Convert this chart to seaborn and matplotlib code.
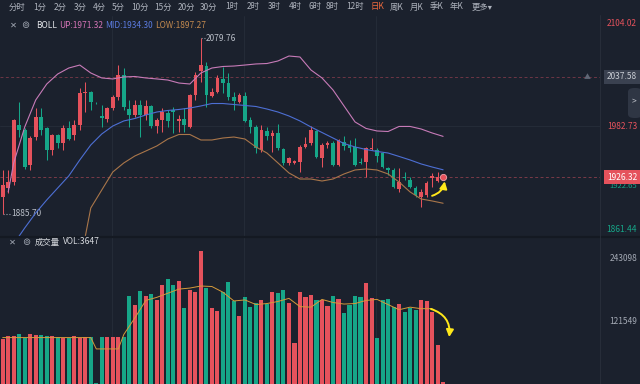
import numpy as np
import matplotlib
matplotlib.use('Agg')
import matplotlib.pyplot as plt
import seaborn as sns
from matplotlib.patches import FancyBboxPatch

# candles (red = up, green = down)
opens = [1904.2, 1914.2, 1920.8, 1983.9, 1978.4, 1939.6, 1970.6, 1992.8, 1980.6, 1956.3,
         1972.9, 1964.0, 1980.6, 1972.9, 1983.9, 2019.3, 2020.5, 2008.5, 1993.9, 1990.6,
         2002.7, 2014.9, 2039.3, 2001.6, 1995.0, 2006.1, 1995.0, 2005.0, 1982.8, 1989.5,
         1997.2, 2000.5, 1988.4, 1990.6, 1981.7, 2017.1, 2043.7, 2049.2, 2016.0, 2020.5,
         2034.8, 2030.4, 2014.9, 2009.4, 2016.0, 1989.5, 1981.7, 1956.3, 1977.3, 1971.7,
         1975.1, 1957.4, 1941.9, 1941.9, 1943.0, 1959.6, 1964.0, 1977.3, 1947.4, 1961.8,
         1964.0, 1939.6, 1965.1, 1961.8, 1959.6, 1943.0, 1943.0, 1957.4, 1956.3, 1952.9,
         1936.3, 1934.1, 1913.1, 1926.3, 1923.0, 1914.2, 1904.2, 1906.4, 1925.2, 1921.9,
         1926.0]
highs = [1934.1, 1934.1, 1990.6, 2009.4, 1980.6, 1971.7, 2002.7, 2002.7, 1981.7, 1974.0,
         1974.0, 1983.9, 1988.4, 1989.5, 2024.9, 2031.5, 2021.6, 2009.4, 2006.1, 2003.9,
         2017.1, 2050.3, 2047.0, 2011.6, 2011.6, 2011.6, 2011.6, 2006.1, 1991.7, 2002.7,
         2000.5, 2003.9, 1995.0, 2002.7, 2018.2, 2042.6, 2079.76, 2053.6, 2024.9, 2039.3,
         2048.1, 2041.5, 2020.5, 2019.3, 2020.5, 1992.8, 1983.9, 1983.9, 1981.7, 1978.4,
         1985.0, 1958.5, 1948.5, 1945.2, 1961.8, 1970.6, 1982.8, 1978.4, 1964.0, 1966.2,
         1966.2, 1968.4, 1971.7, 1967.3, 1969.5, 1947.4, 1959.6, 1969.5, 1958.5, 1954.0,
         1937.4, 1936.3, 1936.3, 1931.9, 1926.3, 1916.4, 1913.1, 1921.9, 1930.8, 1931.9,
         1927.0]
lows = [1885.7, 1908.6, 1917.5, 1970.6, 1935.2, 1934.1, 1967.3, 1972.9, 1945.2, 1950.7,
        1958.5, 1956.3, 1967.3, 1967.3, 1978.4, 1998.3, 2000.5, 2007.2, 1981.7, 1987.3,
        2000.5, 2011.6, 2000.5, 1981.7, 1992.8, 1970.6, 1989.5, 1980.6, 1975.1, 1976.2,
        1981.7, 1975.1, 1976.2, 1976.2, 1980.6, 2011.6, 2031.5, 2003.9, 2014.9, 2019.3,
        2019.3, 2011.6, 2000.5, 2008.3, 1987.3, 1975.1, 1952.9, 1954.0, 1967.3, 1954.0,
        1956.3, 1939.6, 1939.6, 1940.7, 1931.9, 1958.5, 1961.8, 1947.4, 1937.4, 1958.5,
        1938.5, 1938.5, 1956.3, 1954.0, 1938.5, 1940.7, 1926.3, 1956.3, 1943.0, 1936.3,
        1928.6, 1914.2, 1909.8, 1923.0, 1914.2, 1904.2, 1893.2, 1904.2, 1915.3, 1920.8,
        1925.5]
closes = [1917.5, 1920.8, 1989.5, 1978.4, 1937.4, 1969.5, 1992.8, 1978.4, 1956.3, 1972.9,
          1964.0, 1980.6, 1968.4, 1983.9, 2019.3, 2020.5, 2009.4, 2008.0, 1991.7, 2002.7,
          2014.9, 2039.3, 2003.9, 1995.0, 2006.1, 1995.0, 2005.0, 1982.8, 1989.5, 1998.3,
          1988.4, 1998.3, 1990.6, 1983.9, 2017.1, 2039.3, 2050.3, 2017.1, 2020.5, 2035.9,
          2030.4, 2014.9, 2010.5, 2017.1, 1988.4, 1981.7, 1958.5, 1978.4, 1971.7, 1975.1,
          1958.5, 1941.9, 1947.4, 1944.1, 1959.6, 1962.9, 1978.4, 1948.5, 1961.8, 1964.0,
          1939.6, 1967.3, 1960.7, 1958.5, 1939.6, 1941.9, 1958.5, 1958.5, 1949.6, 1937.4,
          1934.1, 1915.3, 1920.8, 1925.2, 1915.3, 1906.4, 1909.8, 1919.7, 1927.5, 1926.3,
          1926.32]
volumes = [88000, 94000, 94000, 96000, 89000, 96000, 95000, 95000, 94000, 94000,
           91000, 89000, 89000, 94000, 90000, 92000, 92000, 2000, 92000, 92000,
           92000, 92000, 92000, 171000, 153000, 180000, 171000, 175000, 162000, 192000,
           204000, 192000, 200000, 148000, 183000, 179000, 258000, 187000, 147000, 142000,
           178000, 198000, 160000, 132000, 168000, 150000, 157000, 163000, 155000, 179000,
           177000, 182000, 157000, 79000, 179000, 169000, 172000, 163000, 163000, 152000,
           170000, 165000, 137000, 153000, 170000, 168000, 195000, 167000, 90000, 163000,
           165000, 150000, 155000, 140000, 148000, 143000, 162000, 160000, 140000, 75000,
           3647]

# bollinger bands, read every second candle
up_idx = [1] + list(range(2, 81, 2))
up_vals = [1909.8, 1941.9, 1981.7, 2011.6, 2029.3, 2040.4, 2047.0, 2050.3, 2041.5, 2036.0,
           2034.9, 2037.1, 2037.6, 2036.0, 2034.9, 2033.7, 2030.4, 2029.3, 2041.5, 2047.0,
           2048.7, 2049.2, 2050.3, 2051.5, 2052.0, 2054.8, 2060.3, 2059.2, 2044.8, 2036.0,
           2022.7, 2005.0, 1987.3, 1980.1, 1977.3, 1976.7, 1982.3, 1982.3, 1979.5, 1975.1,
           1971.32]
mid_idx = list(range(2, 81, 2))
mid_vals = [1852.2, 1869.9, 1886.5, 1900.9, 1914.2, 1927.5, 1945.2, 1961.8, 1974.0, 1982.8,
            1988.4, 1991.1, 1995.0, 1998.3, 2000.0, 2001.1, 2002.7, 2005.0, 2007.7, 2007.7,
            2006.6, 2005.5, 2004.4, 2001.6, 1998.3, 1993.9, 1988.4, 1981.7, 1975.6, 1969.5,
            1963.4, 1959.6, 1956.8, 1954.6, 1952.9, 1949.1, 1945.2, 1940.8, 1937.4, 1934.30]
low_idx = list(range(14, 81, 2))
low_vals = [1828.9, 1892.0, 1912.0, 1931.9, 1941.9, 1949.6, 1955.1, 1960.7, 1968.4, 1973.4,
            1973.4, 1967.3, 1967.3, 1969.5, 1970.6, 1968.4, 1959.6, 1952.9, 1941.9, 1930.8,
            1924.1, 1924.1, 1921.9, 1924.1, 1929.7, 1934.1, 1935.2, 1934.1, 1929.7, 1920.8,
            1909.8, 1902.0, 1899.8, 1897.27]

# volume moving average line
vma_idx = [0, 2, 4, 6, 8, 10, 12, 14, 16, 17, 18, 20, 21, 22] + list(range(24, 79, 2))
vma_vals = [90000, 90000, 90000, 90000, 90000, 90000, 90000, 90000, 90000, 68000,
            68000, 68000, 68000, 96000, 128000, 162000, 168000, 176000, 184000, 186000,
            190000, 189000, 178000, 161000, 163000, 154000, 156000, 160000, 166000, 150000,
            149000, 164000, 158000, 155000, 156000, 162000, 164000, 154000, 144000, 149000,
            146000, 146000]

menu_items = ['分时', '1分', '2分', '3分', '4分', '5分', '10分', '15分', '20分', '30分',
              '1时', '2时', '3时', '4时', '6时', '8时', '12时', '日K', '周K', '月K',
              '季K', '年K', '更多▾']
menu_cx = [17, 40, 60, 80, 99, 118, 140, 163, 186, 209, 232, 253, 274, 295, 315,
           332, 355, 377, 397, 417, 437, 457, 482]

BG = '#1b212d'
RED = '#e5525c'
GREEN = '#16a688'
GRID = '#262d3a'
W, H = 640, 384


def fx(px):
    return px / W


def fy(py):
    return 1 - py / H


sns.set_theme(style='dark', rc={'axes.facecolor': BG, 'figure.facecolor': BG})
plt.rcParams['font.family'] = ['Noto Sans CJK SC', 'DejaVu Sans']

fig = plt.figure(figsize=(6.4, 3.84), dpi=100)
ax = fig.add_axes([0, fy(236), fx(600), 220 / H])
axv = fig.add_axes([0, 0, fx(600), 147 / H])

for a in (ax, axv):
    a.set_facecolor(BG)
    a.set_xticks([])
    a.set_yticks([])
    a.grid(False)
    for s in a.spines.values():
        s.set_visible(False)
    for gx in (19.9, 43.9, 67.9):
        a.axvline(gx, color=GRID, lw=0.6, zorder=0)

# price grid and dashed price lines
ax.axhline(1982.73, color=GRID, lw=0.6, zorder=0)
ax.axhline(2037.58, color='#6e3645', lw=0.7, ls=(0, (3, 2.5)), zorder=1)
ax.axhline(1926.32, color='#7a3a47', lw=0.7, ls=(0, (3, 2.5)), zorder=1)

# candles
x = np.arange(len(closes))
o = np.array(opens)
c = np.array(closes)
cols = np.where(c >= o, RED, GREEN)
ax.vlines(x, lows, highs, colors=cols, lw=0.75, zorder=3)
ax.bar(x, np.maximum(np.abs(c - o), 0.6), bottom=np.minimum(o, c), width=0.68,
       color=cols, linewidth=0, zorder=4)

# bands
sns.lineplot(x=up_idx, y=up_vals, ax=ax, color='#c77bb8', lw=0.8, zorder=5)
sns.lineplot(x=mid_idx, y=mid_vals, ax=ax, color='#4d6fd4', lw=0.8, zorder=5)
sns.lineplot(x=low_idx, y=low_vals, ax=ax, color='#a9764a', lw=0.8, zorder=5)
ax.set_xlim(-0.49, 108.5)
ax.set_ylim(1861.0, 2104.6)

# high / low markers
ax.plot([36.1, 36.8], [2079.76, 2079.76], ls=':', color='#9aa0aa', lw=0.8)
ax.text(36.95, 2079.76, '2079.76', fontsize=6, color='#b9bec7', va='center')
ax.plot([0.1, 1.4], [1885.7, 1885.7], ls=':', color='#9aa0aa', lw=0.8)
ax.text(1.5, 1885.7, '1885.70', fontsize=6, color='#b9bec7', va='center')

# latest price dot and hand-drawn arrow
ax.plot(80, closes[-1], 'o', ms=4.5, color=RED, mec='#f3a3aa', mew=0.6, zorder=7)
ax.annotate('', xy=(80.3, 1921.5), xytext=(78.0, 1905.5),
            arrowprops=dict(arrowstyle='-|>,head_width=0.18,head_length=0.35',
                            color='#ffe81a', lw=1.4, shrinkA=0, shrinkB=0,
                            connectionstyle='arc3,rad=0.3'), zorder=8)

# volume
axv.bar(x, volumes, width=0.74, color=cols, linewidth=0, zorder=3)
sns.lineplot(x=vma_idx, y=vma_vals, ax=axv, color='#d59a3a', lw=0.7, zorder=5)
axv.set_xlim(-0.49, 108.5)
axv.set_ylim(0, 285000)
axv.annotate('', xy=(81.1, 91000), xytext=(77.8, 145500),
             arrowprops=dict(arrowstyle='-|>,head_width=0.18,head_length=0.35',
                             color='#ffe81a', lw=1.4, shrinkA=0, shrinkB=0,
                             connectionstyle='arc3,rad=-0.4'), zorder=8)

# panel separators
fig.add_artist(plt.Line2D([0, 1], [fy(236.5), fy(236.5)], color='#141922', lw=1.6))
fig.add_artist(plt.Line2D([fx(600), fx(600)], [0, fy(15)], color='#2a303c', lw=0.6))

# top menu
for label, cx in zip(menu_items, menu_cx):
    fig.text(fx(cx), fy(7), label, ha='center', va='center', fontsize=6,
             color='#ef6a3d' if label == '日K' else '#aeb3bd')

# BOLL legend
fig.text(fx(13), fy(25), '✕', ha='center', va='center', fontsize=6, color='#a3a9b4')
fig.text(fx(25), fy(25), '⊚', ha='center', va='center', fontsize=7, color='#a3a9b4')
fig.text(fx(36), fy(25), 'BOLL', ha='left', va='center', fontsize=6, color='#e6e8ec')
fig.text(fx(59), fy(25), f'UP:{up_vals[-1]:.2f}', ha='left', va='center', fontsize=6, color='#d474b6')
fig.text(fx(105), fy(25), f'MID:{mid_vals[-1]:.2f}', ha='left', va='center', fontsize=6, color='#5b7be0')
fig.text(fx(155), fy(25), f'LOW:{low_vals[-1]:.2f}', ha='left', va='center', fontsize=6, color='#c2894f')

# volume legend
fig.text(fx(12), fy(242), '✕', ha='center', va='center', fontsize=6, color='#a3a9b4')
fig.text(fx(26), fy(242), '⊚', ha='center', va='center', fontsize=7, color='#a3a9b4')
fig.text(fx(35), fy(242), '成交量', ha='left', va='center', fontsize=6, color='#d6d9de')
fig.text(fx(63), fy(242), f'VOL:{volumes[-1]}', ha='left', va='center', fontsize=6, color='#d6d9de')

# right price labels
ty = ax.get_yaxis_transform()
rx = 637 / 600
fig.text(fx(637), fy(23), '2104.02', ha='right', va='center', fontsize=6, color=RED)
fig.text(fx(637), fy(229), '1861.44', ha='right', va='center', fontsize=6, color=GREEN)
ax.text(rx, 1982.73, '1982.73', transform=ty, ha='right', va='center', fontsize=6,
        color=RED, clip_on=False)
ax.text(rx, 2037.58, '2037.58', transform=ty, ha='right', va='center', fontsize=6,
        color='#c9cdd4', clip_on=False, zorder=10,
        bbox=dict(boxstyle='square,pad=0.3', fc='#3a4150', ec='none'))
fig.text(fx(587), fy(77), '▲', ha='center', va='center', fontsize=5, color='#5f6675')
ax.text(rx, 1916.0, '1922.65', transform=ty, ha='right', va='center', fontsize=5.5,
        color=GREEN, clip_on=False)
ax.text(rx, closes[-1], f'{closes[-1]:.2f}', transform=ty, ha='right', va='center',
        fontsize=6, color='white', clip_on=False, zorder=10,
        bbox=dict(boxstyle='square,pad=0.3', fc=RED, ec='none'))

# side tab
fig.add_artist(FancyBboxPatch((fx(628), fy(118)), fx(14), 30 / H,
                              boxstyle='round,pad=0,rounding_size=0.01',
                              transform=fig.transFigure, fc='#2f3644', ec='none'))
fig.text(fx(634), fy(102), '>', ha='center', va='center', fontsize=6, color='#c0c4cc')

# volume labels
tv = axv.get_yaxis_transform()
axv.text(rx, 243098, '243098', transform=tv, ha='right', va='center', fontsize=6,
         color='#a3a9b4', clip_on=False)
axv.text(rx, 121549, '121549', transform=tv, ha='right', va='center', fontsize=6,
         color='#a3a9b4', clip_on=False)

fig.savefig('out.png', dpi=100, facecolor=BG)
